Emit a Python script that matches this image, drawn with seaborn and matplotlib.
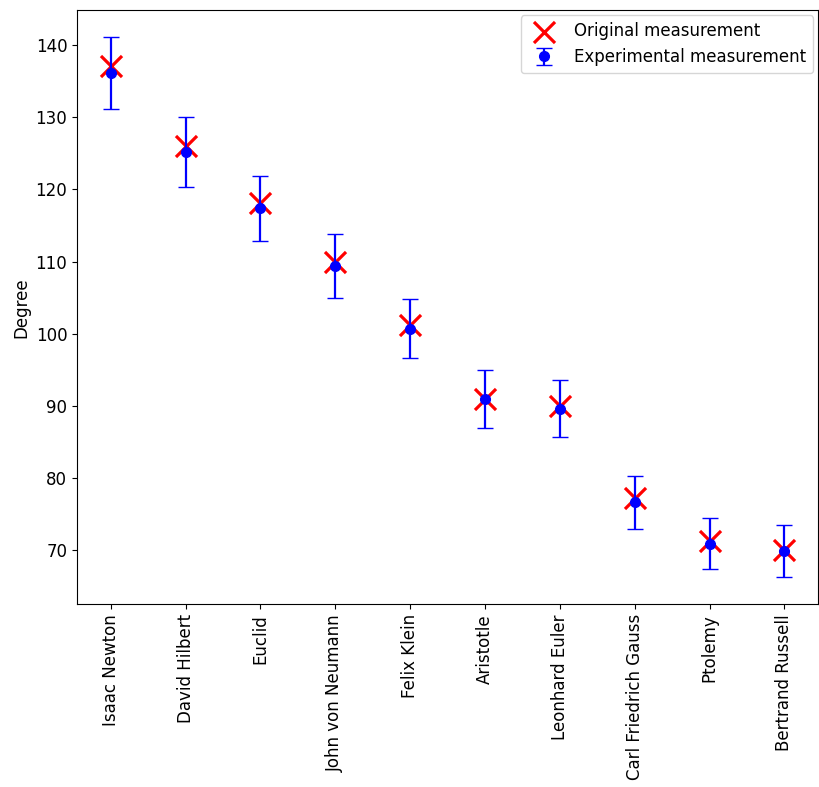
import matplotlib
matplotlib.use("Agg")
import matplotlib.pyplot as plt
import seaborn as sns
import pandas as pd

names = ["Isaac Newton", "David Hilbert", "Euclid", "John von Neumann",
         "Felix Klein", "Aristotle", "Leonhard Euler",
         "Carl Friedrich Gauss", "Ptolemy", "Bertrand Russell"]
original = [137.1, 126.0, 118.1, 110.0, 101.2, 91.0, 90.0, 77.2, 71.2, 70.0]
experimental = [136.1, 125.2, 117.4, 109.4, 100.7, 90.9, 89.6, 76.6, 70.9, 69.8]
errors = [5.0, 4.9, 4.5, 4.4, 4.1, 4.0, 4.0, 3.7, 3.5, 3.6]

df = pd.DataFrame({"name": names, "original": original,
                   "experimental": experimental, "err": errors})

fig, ax = plt.subplots(figsize=(8.19, 7.87), dpi=100)

sns.scatterplot(data=df, x="name", y="original", marker="x", s=230,
                color="red", linewidth=2.3, label="Original measurement",
                ax=ax, zorder=2)

ax.errorbar(df["name"], df["experimental"], yerr=df["err"], fmt="o",
            color="blue", markersize=7, elinewidth=1.6, capsize=6,
            capthick=1, label="Experimental measurement", zorder=3)

ax.set_xlabel("")
ax.set_ylabel("Degree", fontsize=12)
ax.tick_params(axis="both", labelsize=12)
plt.setp(ax.get_xticklabels(), rotation=90)
ax.margins(x=0.05, y=0.05)
ax.legend(loc="upper right", fontsize=12, borderaxespad=0.3)

fig.subplots_adjust(left=0.094, right=0.999, top=0.987, bottom=0.232)
fig.savefig("out.png", dpi=100)
